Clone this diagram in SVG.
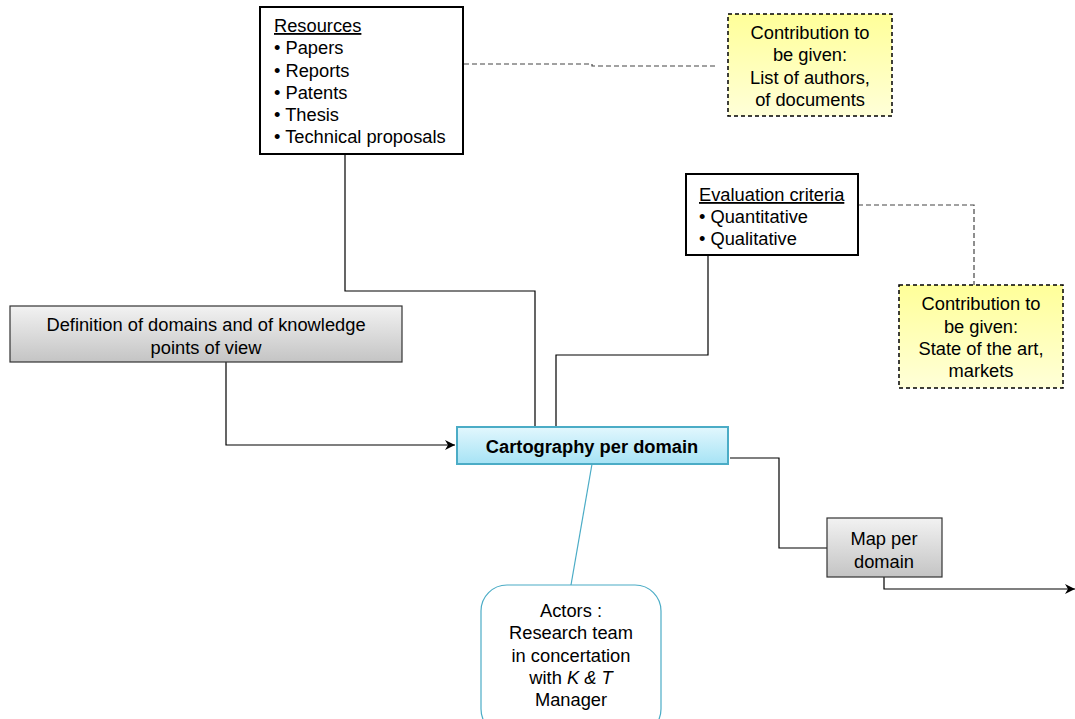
<svg xmlns="http://www.w3.org/2000/svg" width="1075" height="719" viewBox="0 0 1075 719">
<defs>
<linearGradient id="gGray" x1="0" y1="0" x2="0" y2="1"><stop offset="0" stop-color="#f2f2f2"/><stop offset="1" stop-color="#c4c4c4"/></linearGradient>
<linearGradient id="gYellow" x1="0" y1="0" x2="0" y2="1"><stop offset="0" stop-color="#ffff99"/><stop offset="1" stop-color="#ffffd8"/></linearGradient>
<linearGradient id="gBlue" x1="0" y1="0" x2="0" y2="1"><stop offset="0" stop-color="#e2f7fd"/><stop offset="1" stop-color="#a6e3f5"/></linearGradient>
<marker id="arr" viewBox="0 0 10 10" refX="10" refY="5" markerWidth="10" markerHeight="10" markerUnits="userSpaceOnUse" orient="auto"><path d="M0,0 L10,5 L0,10 L3,5 Z" fill="#000"/></marker>
</defs>
<style>
text{font-family:"Liberation Sans",Arial,sans-serif;font-size:18.3px;fill:#000}
.c{text-anchor:middle}
.u{text-decoration:underline}
.box{fill:#fff;stroke:#000;stroke-width:2}
.gray{fill:url(#gGray);stroke:#333;stroke-width:1.2}
.note{fill:url(#gYellow);stroke:#000;stroke-width:1.5;stroke-dasharray:4,3}
.ln{fill:none;stroke:#000;stroke-width:1.2}
.dash{fill:none;stroke:#444;stroke-width:1.2;stroke-dasharray:5,3}
.blue{fill:none;stroke:#4bacc6;stroke-width:1.2}
</style>
<g id="connectors">
<path class="dash" d="M464,64 H592 V66 H716"/>
<path class="dash" d="M858,205 H974 V285"/>
<path class="ln" d="M345,154 V291 H535 V427"/>
<path class="ln" d="M708,255 V355 H556 V427"/>
<path class="ln" d="M226,362 V445 H455" marker-end="url(#arr)"/>
<path class="ln" d="M730,458 H779 V548 H827"/>
<path class="ln" d="M884,577 V589 H1075" marker-end="url(#arr)"/>
<path class="blue" d="M592,464 L571,585"/>
</g>
<g id="resources">
<rect class="box" x="260" y="7" width="203" height="147"/>
<text class="u" x="274" y="32">Resources</text>
<text x="274" y="54">• Papers</text>
<text x="274" y="77">• Reports</text>
<text x="274" y="99">• Patents</text>
<text x="274" y="121">• Thesis</text>
<text x="274" y="143">• Technical proposals</text>
</g>
<g id="contribution1">
<rect class="note" x="728" y="14" width="164" height="102"/>
<text class="c" x="810" y="39">Contribution to</text>
<text class="c" x="810" y="61">be given:</text>
<text class="c" x="810" y="84">List of authors,</text>
<text class="c" x="810" y="106">of documents</text>
</g>
<g id="evaluation">
<rect class="box" x="686" y="174" width="172" height="81"/>
<text class="u" x="699" y="201">Evaluation criteria</text>
<text x="699" y="223">• Quantitative</text>
<text x="699" y="245">• Qualitative</text>
</g>
<g id="contribution2">
<rect class="note" x="899" y="285" width="164" height="103"/>
<text class="c" x="981" y="310">Contribution to</text>
<text class="c" x="981" y="333">be given:</text>
<text class="c" x="981" y="355">State of the art,</text>
<text class="c" x="981" y="377">markets</text>
</g>
<g id="definition">
<rect class="gray" x="10" y="306" width="392" height="56"/>
<text class="c" x="206" y="331">Definition of domains and of knowledge</text>
<text class="c" x="206" y="354">points of view</text>
</g>
<g id="cartography">
<rect x="457" y="427" width="271" height="37" fill="url(#gBlue)" stroke="#4bacc6" stroke-width="2"/>
<text class="c" x="592" y="453" font-weight="bold">Cartography per domain</text>
</g>
<g id="map">
<rect class="gray" x="827" y="518" width="115" height="59"/>
<text class="c" x="884" y="545">Map per</text>
<text class="c" x="884" y="568">domain</text>
</g>
<g id="actors">
<rect x="481" y="585" width="180" height="150" rx="26" ry="26" fill="#fff" stroke="#4bacc6" stroke-width="1.2"/>
<text class="c" x="571" y="617">Actors :</text>
<text class="c" x="571" y="639">Research team</text>
<text class="c" x="571" y="662">in concertation</text>
<text class="c" x="571" y="684">with <tspan font-style="italic">K &amp; T</tspan></text>
<text class="c" x="571" y="706">Manager</text>
</g>
</svg>
